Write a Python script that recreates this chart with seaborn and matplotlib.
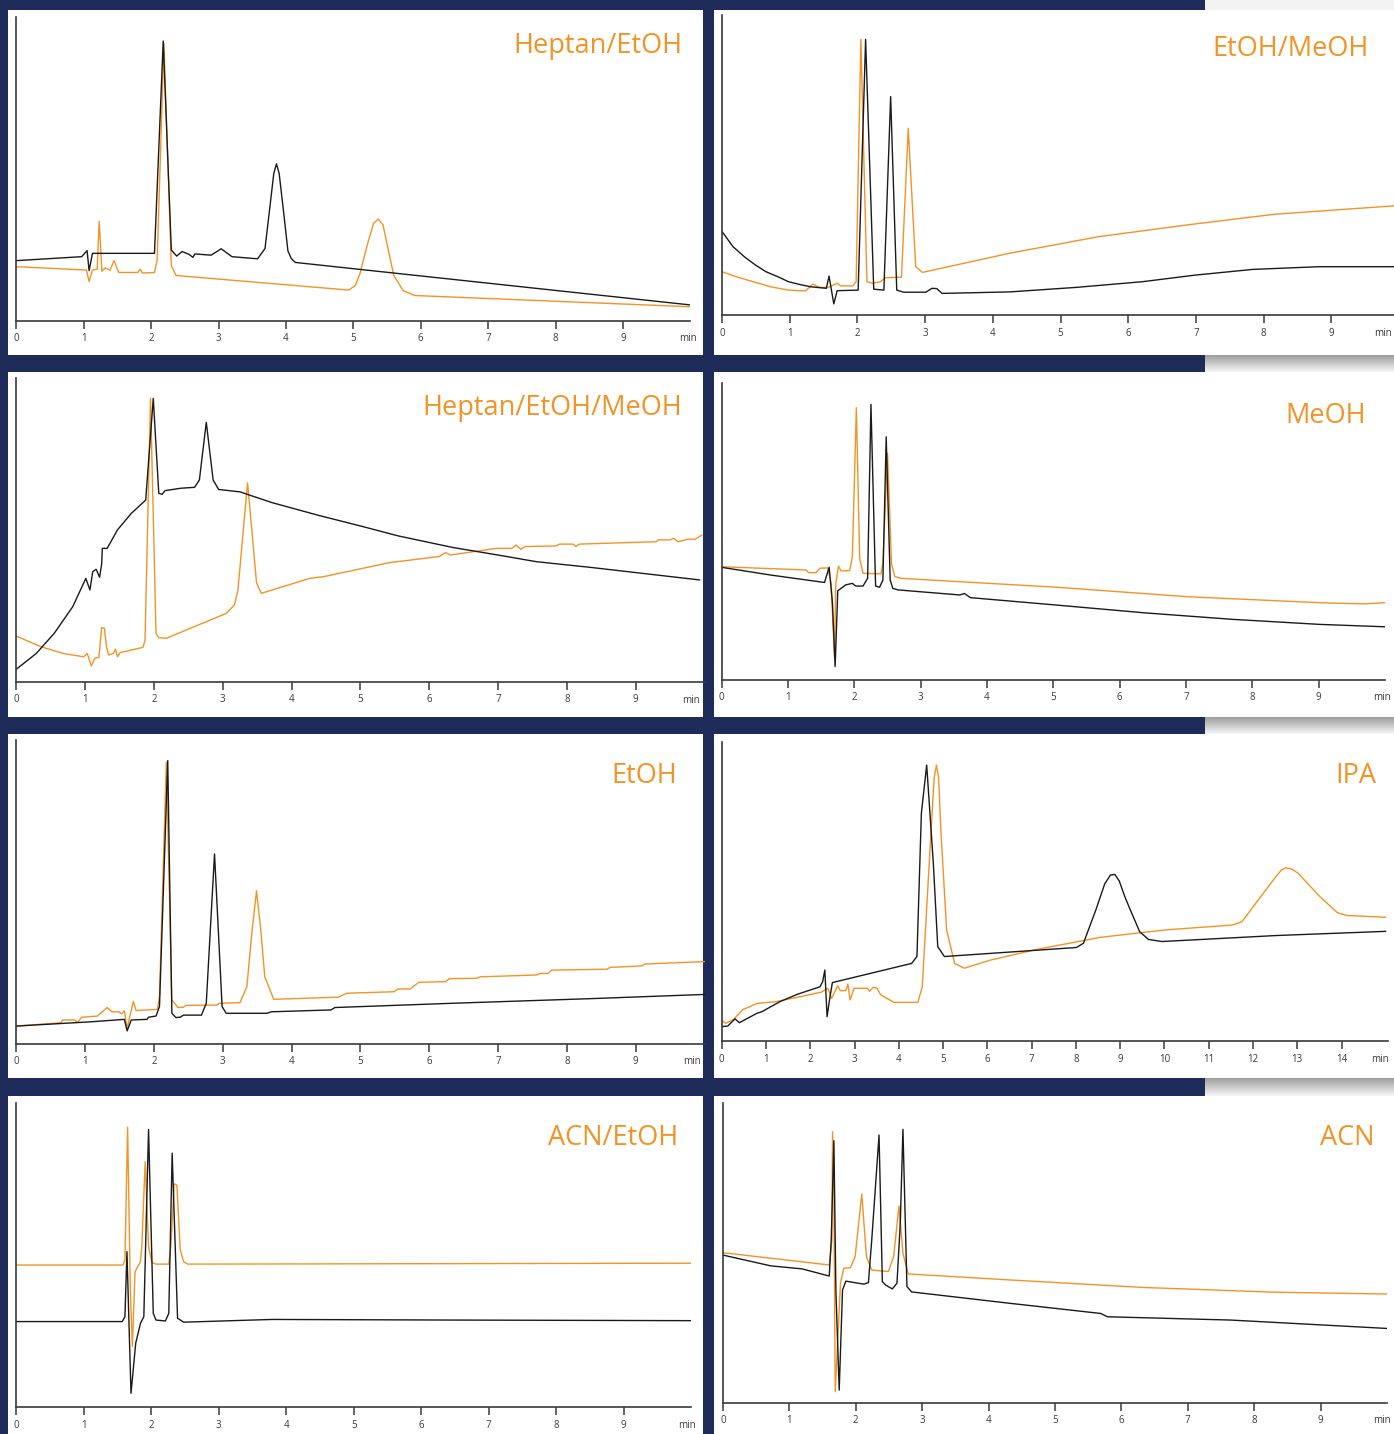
import matplotlib
matplotlib.use('Agg')
import numpy as np
import matplotlib.pyplot as plt
import seaborn as sns
from matplotlib.patches import Rectangle

sns.set_theme(style='white')
plt.rcParams['font.family'] = ['Open Sans', 'DejaVu Sans']

NAVY = '#1f2c59'
ORANGE = '#f39325'
BLACK = '#1a1a1a'
AXIS = '#3a3a3a'

# ---- data: time (min) / signal (% of axis height) ----
# Heptan/EtOH
p1_black_t = [0, 0.97, 1.05, 1.08, 1.13, 2.05, 2.18, 2.30, 2.38, 2.46, 2.56, 2.62, 2.65, 2.89, 3.04, 3.20, 3.58, 3.69, 3.76, 3.82, 3.86, 3.90, 3.96, 4.03, 4.08, 4.14, 10.0]
p1_black_y = [19.8, 21.1, 23.1, 16.5, 22.2, 22.2, 92.2, 23.3, 21.3, 22.8, 21.9, 20.9, 22.0, 21.6, 23.7, 21.1, 20.4, 23.8, 37.0, 48.5, 51.7, 48.5, 37.0, 23.0, 20.5, 19.2, 5.2]
p1_orange_t = [0, 1.04, 1.08, 1.13, 1.20, 1.23, 1.27, 1.32, 1.39, 1.45, 1.52, 1.80, 1.84, 1.87, 2.05, 2.09, 2.19, 2.30, 2.37, 4.93, 5.03, 5.10, 5.20, 5.30, 5.37, 5.44, 5.52, 5.60, 5.74, 5.91, 10.0]
p1_orange_y = [17.8, 16.7, 12.9, 16.7, 17.0, 32.8, 16.3, 17.4, 16.6, 19.8, 15.9, 15.9, 17.0, 15.7, 15.9, 20.0, 91.5, 18.2, 14.9, 10.1, 11.6, 15.6, 24.4, 32.1, 33.5, 31.6, 23.3, 14.9, 9.9, 8.3, 4.6]

# EtOH/MeOH
p2_black_t = [0, 0.16, 0.33, 0.49, 0.65, 0.82, 0.98, 1.14, 1.31, 1.54, 1.58, 1.65, 1.70, 2.01, 2.12, 2.24, 2.39, 2.49, 2.58, 2.68, 3.01, 3.10, 3.17, 3.25, 4.25, 5.23, 6.21, 6.99, 7.84, 8.82, 10.0]
p2_black_y = [27.8, 22.8, 19.4, 16.7, 14.4, 12.8, 11.1, 10.2, 9.4, 8.9, 13.0, 3.7, 8.1, 8.3, 91.9, 8.6, 8.3, 72.8, 8.3, 7.6, 7.6, 8.9, 8.8, 7.2, 7.7, 9.2, 11.1, 13.3, 15.2, 16.1, 16.1]
p2_orange_t = [0, 0.23, 0.46, 0.72, 0.98, 1.23, 1.34, 1.44, 1.57, 1.70, 1.75, 1.93, 1.98, 2.05, 2.14, 2.22, 2.34, 2.41, 2.65, 2.75, 2.86, 2.96, 4.25, 5.56, 6.86, 8.17, 10.0]
p2_orange_y = [14.4, 12.6, 11.1, 9.4, 8.3, 8.0, 10.3, 9.2, 9.2, 10.6, 9.7, 9.7, 11.1, 91.9, 11.1, 10.6, 11.1, 12.4, 12.6, 62.2, 16.1, 14.2, 20.6, 26.1, 30.0, 33.6, 36.5]

# Heptan/EtOH/MeOH
p3_black_t = [0, 0.29, 0.55, 0.82, 1.01, 1.07, 1.11, 1.16, 1.21, 1.24, 1.25, 1.32, 1.47, 1.67, 1.88, 1.99, 2.07, 2.12, 2.16, 2.39, 2.59, 2.66, 2.76, 2.86, 2.94, 3.25, 3.71, 4.37, 5.03, 5.55, 6.34, 7.00, 7.56, 8.32, 9.93]
p3_black_y = [4.2, 9.4, 16.0, 24.8, 34.1, 30.3, 36.3, 37.1, 34.5, 38.9, 44.0, 44.0, 50.1, 55.5, 59.9, 93.4, 62.1, 61.8, 63.0, 63.8, 64.1, 66.5, 85.5, 66.5, 63.4, 62.6, 59.1, 55.0, 51.2, 48.1, 44.3, 41.8, 39.6, 37.8, 33.6]
p3_orange_t = [0, 0.36, 0.68, 0.98, 1.03, 1.09, 1.14, 1.20, 1.24, 1.28, 1.31, 1.34, 1.41, 1.44, 1.47, 1.51, 1.84, 1.87, 1.95, 2.03, 2.07, 2.18, 3.05, 3.17, 3.22, 3.36, 3.49, 3.56, 4.26, 4.47, 5.42, 6.14, 6.24, 6.31, 6.97, 7.20, 7.26, 7.33, 7.39, 7.84, 7.89, 8.09, 8.13, 8.18, 9.30, 9.33, 9.50, 9.55, 9.61, 9.76, 9.86, 9.96]
p3_orange_y = [15.1, 11.6, 9.4, 8.3, 9.4, 5.3, 7.8, 8.1, 17.9, 17.7, 11.6, 8.9, 9.4, 10.8, 8.3, 9.7, 11.4, 13.8, 93.4, 16.0, 14.6, 14.4, 22.6, 25.4, 30.3, 65.6, 32.7, 29.2, 34.1, 34.7, 39.3, 41.3, 42.6, 41.8, 44.0, 44.0, 45.1, 43.7, 44.6, 44.8, 45.4, 45.4, 44.6, 45.4, 46.2, 46.8, 46.8, 47.3, 46.2, 47.0, 47.0, 48.4]

# MeOH
p4_black_t = [0, 0.74, 1.55, 1.62, 1.67, 1.71, 1.75, 1.87, 1.97, 2.02, 2.13, 2.20, 2.25, 2.32, 2.38, 2.43, 2.48, 2.54, 2.58, 2.66, 3.59, 3.66, 3.75, 5.05, 6.37, 7.70, 9.02, 10.0]
p4_black_y = [37.9, 35.3, 32.8, 37.9, 25.8, 4.5, 30.0, 32.0, 32.5, 31.6, 31.6, 34.2, 92.7, 31.6, 31.2, 33.6, 81.8, 33.6, 30.8, 30.3, 28.6, 29.1, 27.7, 25.2, 22.6, 20.4, 18.7, 17.9]
p4_orange_t = [0, 1.27, 1.31, 1.42, 1.48, 1.60, 1.65, 1.70, 1.72, 1.76, 1.80, 1.93, 1.97, 2.03, 2.08, 2.13, 2.40, 2.43, 2.50, 2.56, 2.61, 2.70, 5.05, 7.03, 9.02, 9.68, 10.0]
p4_orange_y = [38.1, 37.0, 36.1, 36.1, 37.6, 37.7, 32.5, 7.8, 32.5, 38.3, 36.7, 36.8, 41.5, 91.6, 40.9, 35.9, 35.7, 39.2, 76.2, 39.2, 34.8, 34.2, 31.2, 28.0, 26.0, 25.6, 26.0]

# EtOH
p5_black_t = [0, 1.08, 1.57, 1.61, 1.67, 1.90, 1.92, 2.03, 2.08, 2.20, 2.26, 2.32, 2.38, 2.43, 2.69, 2.76, 2.88, 2.99, 3.05, 3.64, 3.71, 4.57, 4.63, 6.34, 8.32, 10.0]
p5_black_y = [5.9, 7.3, 8.1, 4.3, 7.9, 8.1, 8.8, 9.2, 12.3, 93.2, 10.1, 8.7, 8.8, 9.5, 9.5, 13.4, 62.5, 12.3, 10.1, 10.1, 10.6, 11.2, 12.0, 13.4, 14.9, 16.3]
p5_orange_t = [0, 0.65, 0.67, 0.85, 0.89, 0.95, 1.18, 1.32, 1.39, 1.49, 1.53, 1.57, 1.61, 1.70, 1.74, 2.05, 2.08, 2.18, 2.26, 2.35, 2.43, 2.46, 2.91, 2.95, 3.25, 3.35, 3.42, 3.49, 3.55, 3.61, 3.74, 4.68, 4.80, 5.49, 5.54, 5.72, 5.85, 6.24, 6.29, 6.68, 6.74, 7.56, 7.61, 7.72, 7.78, 8.58, 8.63, 9.09, 9.13, 10.0]
p5_orange_y = [5.9, 7.0, 7.9, 7.9, 7.1, 8.8, 9.2, 12.0, 10.6, 10.6, 9.9, 10.9, 5.2, 14.0, 11.0, 11.4, 15.6, 92.7, 14.5, 12.0, 12.1, 12.7, 12.8, 13.4, 13.6, 18.9, 36.0, 50.4, 38.0, 22.1, 14.7, 15.4, 16.7, 17.2, 18.1, 18.1, 20.3, 20.5, 21.5, 21.6, 22.1, 22.7, 23.2, 23.2, 24.3, 24.6, 25.2, 25.7, 26.3, 27.1]

# IPA
p6_black_t = [0, 0.14, 0.30, 0.40, 0.79, 0.91, 1.31, 1.71, 2.22, 2.28, 2.33, 2.38, 2.44, 2.50, 4.29, 4.41, 4.51, 4.63, 4.78, 4.88, 5.03, 8.01, 8.17, 8.45, 8.65, 8.78, 8.88, 8.98, 9.10, 9.20, 9.44, 9.64, 9.94, 12.52, 15.0]
p6_black_y = [4.9, 5.1, 7.5, 6.2, 9.3, 9.9, 13.2, 15.7, 18.2, 19.9, 23.8, 8.2, 14.3, 19.6, 26.0, 28.3, 76.1, 92.2, 59.4, 31.6, 28.3, 31.3, 32.7, 43.8, 52.5, 55.5, 55.7, 53.5, 48.5, 44.9, 36.6, 34.0, 33.3, 35.3, 36.7]
p6_orange_t = [0, 0.09, 0.27, 0.47, 0.81, 1.21, 1.71, 2.25, 2.40, 2.48, 2.62, 2.68, 2.80, 2.85, 2.90, 2.99, 3.29, 3.34, 3.42, 3.51, 3.59, 3.89, 4.43, 4.53, 4.73, 4.80, 4.85, 4.90, 4.95, 5.08, 5.26, 5.48, 6.07, 7.06, 8.55, 10.04, 11.53, 11.75, 12.12, 12.52, 12.65, 12.75, 12.87, 13.02, 13.51, 13.91, 14.11, 15.0]
p6_orange_y = [7.1, 6.0, 7.3, 10.5, 12.7, 13.2, 14.7, 16.4, 17.7, 14.3, 18.5, 16.9, 16.9, 19.1, 13.8, 17.7, 17.7, 16.7, 18.0, 17.7, 15.5, 13.0, 13.0, 18.2, 70.5, 88.0, 92.2, 88.0, 70.5, 37.2, 26.0, 24.4, 27.1, 30.5, 34.7, 37.2, 38.8, 39.9, 47.2, 55.0, 57.3, 57.9, 57.5, 56.1, 48.3, 42.9, 42.0, 41.4]

# ACN/EtOH
p7_black_t = [0, 1.57, 1.61, 1.64, 1.67, 1.70, 1.77, 1.84, 1.89, 1.96, 2.03, 2.07, 2.21, 2.26, 2.31, 2.39, 2.48, 3.79, 6.47, 10.0]
p7_black_y = [28.2, 28.2, 29.8, 51.2, 27.6, 4.6, 21.1, 27.6, 29.8, 91.4, 30.9, 28.7, 28.4, 30.9, 83.6, 29.3, 28.0, 28.9, 28.7, 28.5]
p7_orange_t = [0, 1.58, 1.61, 1.65, 1.69, 1.72, 1.76, 1.84, 1.86, 1.91, 1.96, 2.01, 2.07, 2.26, 2.29, 2.34, 2.38, 2.43, 2.48, 2.54, 10.0]
p7_orange_y = [46.8, 46.8, 48.5, 92.1, 38.6, 20.0, 44.6, 47.9, 52.9, 80.8, 52.9, 47.6, 47.1, 47.1, 52.9, 73.5, 73.1, 51.8, 47.9, 47.1, 47.4]

# ACN
p8_black_t = [0, 0.72, 1.19, 1.60, 1.63, 1.67, 1.70, 1.75, 1.80, 1.85, 2.12, 2.19, 2.24, 2.35, 2.40, 2.45, 2.55, 2.62, 2.67, 2.71, 2.77, 2.84, 4.32, 5.69, 5.79, 7.65, 10.0]
p8_black_y = [49.3, 45.7, 44.7, 42.3, 54.3, 87.5, 37.6, 4.2, 37.6, 40.6, 39.6, 40.1, 54.3, 89.4, 40.4, 39.3, 38.0, 39.9, 59.9, 91.3, 38.8, 37.0, 33.2, 29.8, 28.7, 27.6, 24.8]
p8_orange_t = [0, 1.60, 1.64, 1.65, 1.67, 1.69, 1.74, 1.77, 1.82, 1.92, 1.99, 2.09, 2.16, 2.24, 2.49, 2.57, 2.65, 2.71, 2.79, 4.32, 6.32, 8.32, 10.0]
p8_orange_y = [50.1, 46.0, 54.3, 90.5, 71.0, 3.7, 26.5, 40.1, 44.9, 45.1, 48.8, 69.7, 48.8, 44.3, 43.8, 48.8, 65.7, 49.9, 43.0, 41.0, 38.5, 36.9, 36.3]

titles = ['Heptan/EtOH', 'EtOH/MeOH', 'Heptan/EtOH/MeOH', 'MeOH',
          'EtOH', 'IPA', 'ACN/EtOH', 'ACN']
x_max = [10, 10, 10, 10, 10, 15.05, 10, 10]
tick_max = [9, 9, 9, 9, 9, 14, 9, 9]
traces = [
    (p1_black_t, p1_black_y, p1_orange_t, p1_orange_y),
    (p2_black_t, p2_black_y, p2_orange_t, p2_orange_y),
    (p3_black_t, p3_black_y, p3_orange_t, p3_orange_y),
    (p4_black_t, p4_black_y, p4_orange_t, p4_orange_y),
    (p5_black_t, p5_black_y, p5_orange_t, p5_orange_y),
    (p6_black_t, p6_black_y, p6_orange_t, p6_orange_y),
    (p7_black_t, p7_black_y, p7_orange_t, p7_orange_y),
    (p8_black_t, p8_black_y, p8_orange_t, p8_orange_y),
]

# ---- layout in pixels ----
W, H = 1394, 1434
# white panel boxes: x0, x1, ytop, ybottom
boxes = [(8, 703, 10, 355), (714, 1394, 10, 355),
         (8, 703, 372, 717), (714, 1394, 372, 717),
         (8, 703, 734, 1078), (714, 1394, 734, 1078),
         (8, 703, 1096, 1434), (714, 1394, 1096, 1434)]
# plot areas: x at t=0, x at t=xmax, y of top of y-axis, y of x-axis
areas = [(16.3, 690.3, 17.3, 320.7), (722.1, 1399.0, 15.0, 315.0),
         (16.3, 704.6, 378.3, 682.0), (721.7, 1385.0, 382.7, 680.0),
         (16.3, 704.6, 740.0, 1044.0), (721.7, 1388.0, 741.7, 1041.3),
         (16.3, 691.0, 1103.3, 1407.3), (723.0, 1387.0, 1103.3, 1402.7)]
# centre x of the "min" label
min_x = [688, 1383, 691, 1382, 692, 1380, 687, 1382]
# right edge / baseline of the titles
title_pos = [(682, 52.7), (1369, 56), (682, 415), (1366, 423),
             (677, 782.7), (1376, 783.3), (678, 1145), (1374, 1145)]

fig = plt.figure(figsize=(W / 100, H / 100), dpi=100, facecolor=NAVY)


def fig_rect(x0, x1, ytop, ybot):
    return [x0 / W, 1 - ybot / H, (x1 - x0) / W, (ybot - ytop) / H]


for b in boxes:
    r = fig_rect(*b)
    fig.add_artist(Rectangle((r[0], r[1]), r[2], r[3], transform=fig.transFigure,
                             facecolor='white', edgecolor='none', zorder=-5))

# light strip top right, grey gradient strips between the right-hand rows
top = fig_rect(1205, 1394, 0, 10)
fig.add_artist(Rectangle((top[0], top[1]), top[2], top[3], transform=fig.transFigure,
                         facecolor='#f3f3f3', edgecolor='none', zorder=-5))
grad = np.linspace(0.62, 0.96, 20).reshape(-1, 1)
for y0, y1 in [(355, 372), (717, 734), (1078, 1096)]:
    gax = fig.add_axes(fig_rect(1205, 1394, y0, y1))
    gax.imshow(grad, aspect='auto', cmap='gray', vmin=0, vmax=1)
    gax.set_axis_off()

for i in range(8):
    bt, by, ot, oy = traces[i]
    ax = fig.add_axes(fig_rect(*areas[i]))
    ax.patch.set_visible(False)
    sns.lineplot(x=ot, y=oy, ax=ax, color=ORANGE, lw=1.0, sort=False, estimator=None)
    sns.lineplot(x=bt, y=by, ax=ax, color=BLACK, lw=1.0, sort=False, estimator=None)
    ax.set_xlim(0, x_max[i])
    ax.set_ylim(0, 100)
    ax.set_xlabel('')
    ax.set_ylabel('')
    ax.set_yticks([])
    ticks = list(range(0, tick_max[i] + 1))
    ax.set_xticks(ticks)
    ax.set_xticklabels([str(t) for t in ticks])
    ax.tick_params(axis='x', direction='out', length=6, width=1.1, colors=AXIS,
                   labelsize=7, pad=3, bottom=True)
    for s in ['top', 'right']:
        ax.spines[s].set_visible(False)
    for s in ['left', 'bottom']:
        ax.spines[s].set_visible(True)
        ax.spines[s].set_color(AXIS)
        ax.spines[s].set_linewidth(1.2)
    y_axis = areas[i][3]
    fig.text(min_x[i] / W, 1 - (y_axis + 18) / H, 'min', ha='center', va='center',
             fontsize=7, color=AXIS)
    tx, ty = title_pos[i]
    fig.text(tx / W, 1 - ty / H, titles[i], ha='right', va='baseline',
             color=ORANGE, fontsize=19.5)

fig.savefig('out.png', dpi=100, facecolor=NAVY)
